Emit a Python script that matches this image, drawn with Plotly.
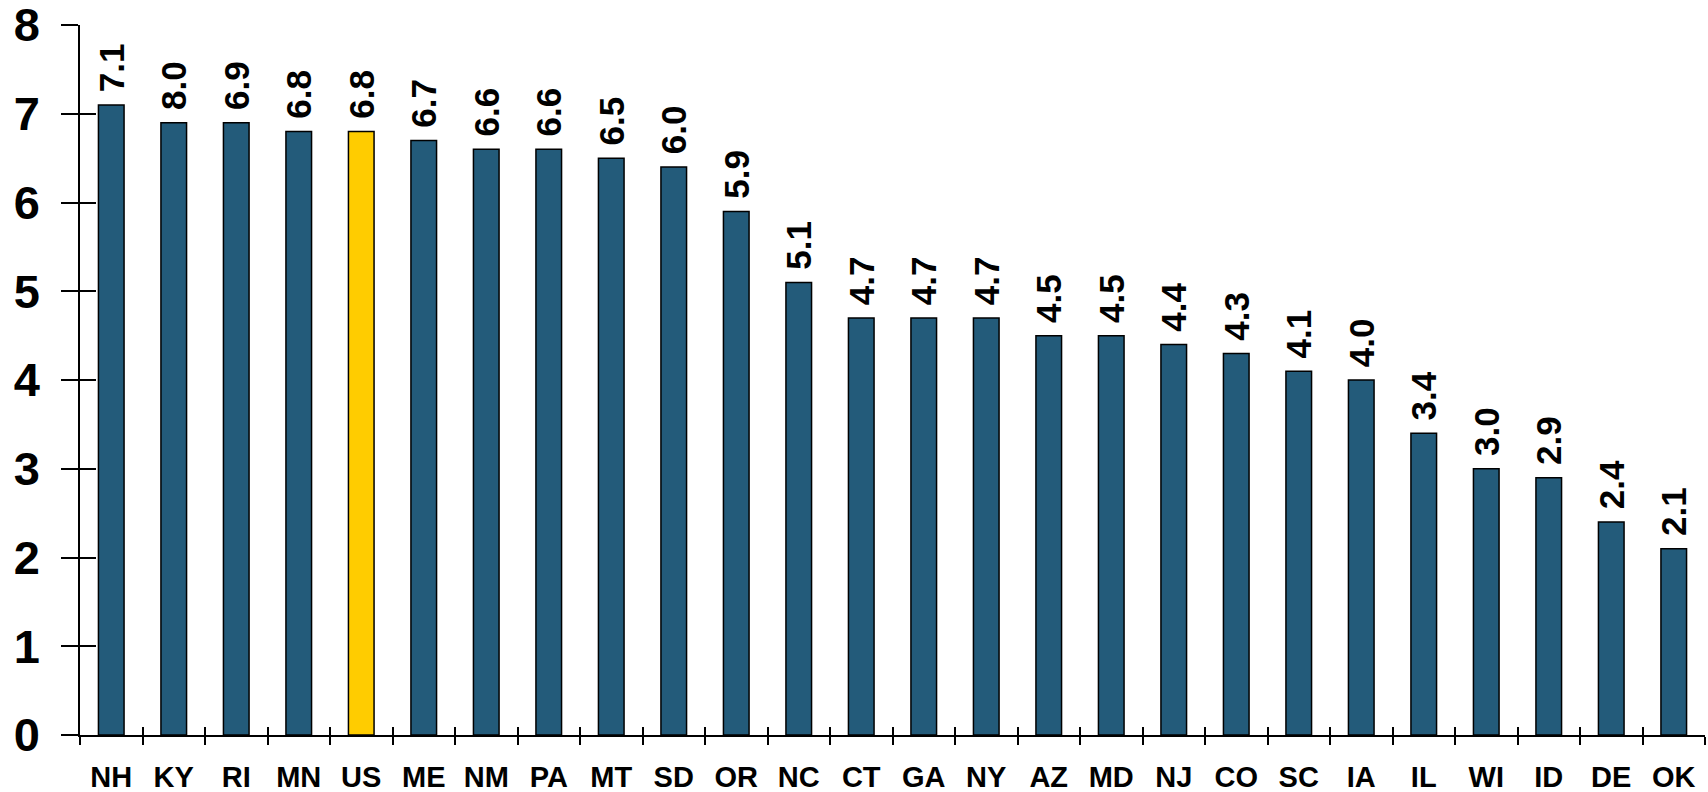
import plotly.graph_objects as go

states = ["NH", "KY", "RI", "MN", "US", "ME", "NM", "PA", "MT", "SD", "OR", "NC", "CT",
          "GA", "NY", "AZ", "MD", "NJ", "CO", "SC", "IA", "IL", "WI", "ID", "DE", "OK"]
bar_values = [7.1, 6.9, 6.9, 6.8, 6.8, 6.7, 6.6, 6.6, 6.5, 6.4, 5.9, 5.1, 4.7,
              4.7, 4.7, 4.5, 4.5, 4.4, 4.3, 4.1, 4.0, 3.4, 3.0, 2.9, 2.4, 2.1]
bar_labels = ["7.1", "8.0", "6.9", "6.8", "6.8", "6.7", "6.6", "6.6", "6.5", "6.0", "5.9", "5.1", "4.7",
              "4.7", "4.7", "4.5", "4.5", "4.4", "4.3", "4.1", "4.0", "3.4", "3.0", "2.9", "2.4", "2.1"]
highlight = "US"
y_ticks = [0, 1, 2, 3, 4, 5, 6, 7, 8]

BLUE = "#235B7A"
GOLD = "#FFCC00"
FONT = "Liberation Sans, Arial, sans-serif"

colors = [GOLD if s == highlight else BLUE for s in states]

fig = go.Figure()
fig.add_trace(go.Bar(
    x=states, y=bar_values,
    marker=dict(color=colors, line=dict(color="black", width=1.5)),
    text=["\u00a0" + t for t in bar_labels],
    textposition="outside", textangle=-90, constraintext="none",
    textfont=dict(family=FONT, size=35, color="black", weight="bold"),
    cliponaxis=False, width=0.41, hoverinfo="skip",
))
# invisible companion trace carrying the inner half of the crossing ticks
fig.add_trace(go.Scatter(
    x=states, y=bar_values, xaxis="x2", yaxis="y2",
    mode="markers", marker=dict(opacity=0), hoverinfo="skip", showlegend=False,
))

fig.update_layout(
    width=1708, height=792,
    margin=dict(l=80, r=3, t=25, b=57, autoexpand=False),
    paper_bgcolor="white", plot_bgcolor="white",
    showlegend=False,
    xaxis=dict(
        type="category", categoryarray=states, range=[-0.5, len(states) - 0.5],
        showline=True, linecolor="black", linewidth=2,
        ticks="outside", ticklen=8, tickwidth=1.5, tickcolor="black",
        tickson="boundaries", showgrid=False, zeroline=False, automargin=False,
        tickfont=dict(family=FONT, size=29, color="black", weight="bold"),
        ticklabelstandoff=15, ticklabeloverflow="allow",
    ),
    yaxis=dict(
        range=[0, 8], tickvals=y_ticks,
        showline=True, linecolor="black", linewidth=1.5,
        ticks="outside", ticklen=17, tickwidth=1.5, tickcolor="black",
        showgrid=False, zeroline=False, automargin=False,
        tickfont=dict(family=FONT, size=47, color="black", weight="bold"),
        ticklabelstandoff=12, ticklabeloverflow="allow",
    ),
    xaxis2=dict(
        type="category", categoryarray=states, range=[-0.5, len(states) - 0.5],
        overlaying="x", anchor="y2", showline=False, automargin=False,
        ticks="inside", ticklen=8, tickwidth=1.5, tickcolor="black",
        tickson="boundaries", showgrid=False, zeroline=False, showticklabels=False,
    ),
    yaxis2=dict(
        range=[0, 8], tickvals=y_ticks, overlaying="y", anchor="x2", side="left",
        showline=False, ticks="inside", ticklen=16, tickwidth=1.5, tickcolor="black",
        showgrid=False, zeroline=False, showticklabels=False, automargin=False,
    ),
)

fig.write_html("out.html", config={"displayModeBar": False},
               post_script="document.body.style.margin='0';")
